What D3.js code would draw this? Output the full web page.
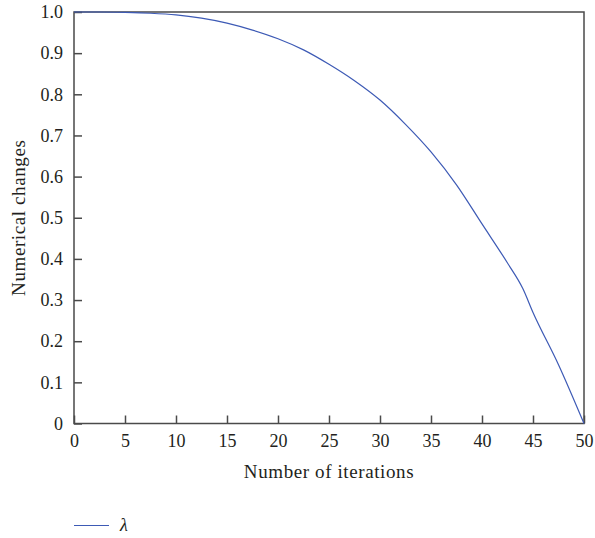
<!DOCTYPE html>
<html>
<head>
<meta charset="utf-8">
<script src="https://cdn.jsdelivr.net/npm/d3@7"></script>
<style>
body { margin: 0; background: #fff; }
text { font-family: "Liberation Serif", "Times New Roman", serif; fill: #231f20; }
</style>
</head>
<body>
<svg id="chart" width="595" height="538"></svg>
<script>
// values
var iterations = [0, 2.5, 5, 7.5, 10, 12.5, 15, 17.5, 20, 22.5, 25, 27.5, 30, 32.5, 35, 37.5, 40, 42.5, 44, 45, 47.5, 50];
var lambdaValues = [1.0, 1.0, 0.999, 0.997, 0.993, 0.985, 0.973, 0.956, 0.935, 0.908, 0.873, 0.833, 0.786, 0.727, 0.66, 0.58, 0.485, 0.39, 0.328, 0.27, 0.143, 0.0];
var xTicks = [0, 5, 10, 15, 20, 25, 30, 35, 40, 45, 50];
var yTicks = [0, 0.1, 0.2, 0.3, 0.4, 0.5, 0.6, 0.7, 0.8, 0.9, 1.0];
var seriesName = "λ";

drawChart();

function drawChart(){
	var svg = d3.select("#chart");
	var plotLeft = 74, plotRight = 584, plotTop = 12, plotBottom = 423.5;
	var fontSize = 18;

	var x = d3.scaleLinear().domain([0, 50]).range([plotLeft, plotRight]);
	var y = d3.scaleLinear().domain([0, 1]).range([plotBottom, plotTop]);

	// frame
	svg.append('rect')
		.attr('x', plotLeft).attr('y', plotTop)
		.attr('width', plotRight - plotLeft).attr('height', plotBottom - plotTop)
		.attr('fill', "none")
		.attr('stroke', "#4a4a4a")
		.attr('stroke-width', 1.5);

	// bottom axis, ticks inward
	var xAxis = svg.append('g')
		.attr('transform', "translate(0," + plotBottom + ")")
		.call(d3.axisBottom(x).tickValues(xTicks).tickSize(-8).tickPadding(11)
			.tickFormat(d3.format("d")));
	xAxis.select('.domain').remove();
	xAxis.selectAll('line').attr('stroke', "#4a4a4a").attr('stroke-width', 1.5);
	xAxis.selectAll('text').attr('font-size', fontSize).attr('font-family', null).attr('fill', "#231f20");

	// left axis, ticks inward
	var yAxis = svg.append('g')
		.attr('transform', "translate(" + plotLeft + ",0)")
		.call(d3.axisLeft(y).tickValues(yTicks).tickSize(-8).tickPadding(11)
			.tickFormat(function(d){ return d === 0 ? "0" : d3.format(".1f")(d); }));
	yAxis.select('.domain').remove();
	yAxis.selectAll('line').attr('stroke', "#4a4a4a").attr('stroke-width', 1.5);
	yAxis.selectAll('text').attr('font-size', fontSize).attr('font-family', null).attr('fill', "#231f20");

	// the curve
	var line = d3.line()
		.x(function(d, i){ return x(iterations[i]); })
		.y(function(d){ return y(d); })
		.curve(d3.curveMonotoneX);

	svg.append('path')
		.datum(lambdaValues)
		.attr('d', line)
		.attr('fill', "none")
		.attr('stroke', "#3d5ab5")
		.attr('stroke-width', 1.2);

	// axis titles
	svg.append('text')
		.text("Number of iterations")
		.attr('x', (plotLeft + plotRight) / 2)
		.attr('y', 478)
		.attr('text-anchor', "middle")
		.attr('font-size', 19)
		.attr('letter-spacing', 0.6);

	svg.append('text')
		.text("Numerical changes")
		.attr('transform', "translate(25," + ((plotTop + plotBottom) / 2) + ") rotate(-90)")
		.attr('text-anchor', "middle")
		.attr('font-size', 19)
		.attr('letter-spacing', 0.6);

	// legend
	svg.append('line')
		.attr('x1', 74).attr('x2', 109)
		.attr('y1', 525.5).attr('y2', 525.5)
		.attr('stroke', "#3d5ab5")
		.attr('stroke-width', 1.2);
	svg.append('text')
		.text(seriesName)
		.attr('x', 120)
		.attr('y', 531)
		.attr('font-size', fontSize)
		.attr('font-style', "italic");
}
</script>
</body>
</html>
